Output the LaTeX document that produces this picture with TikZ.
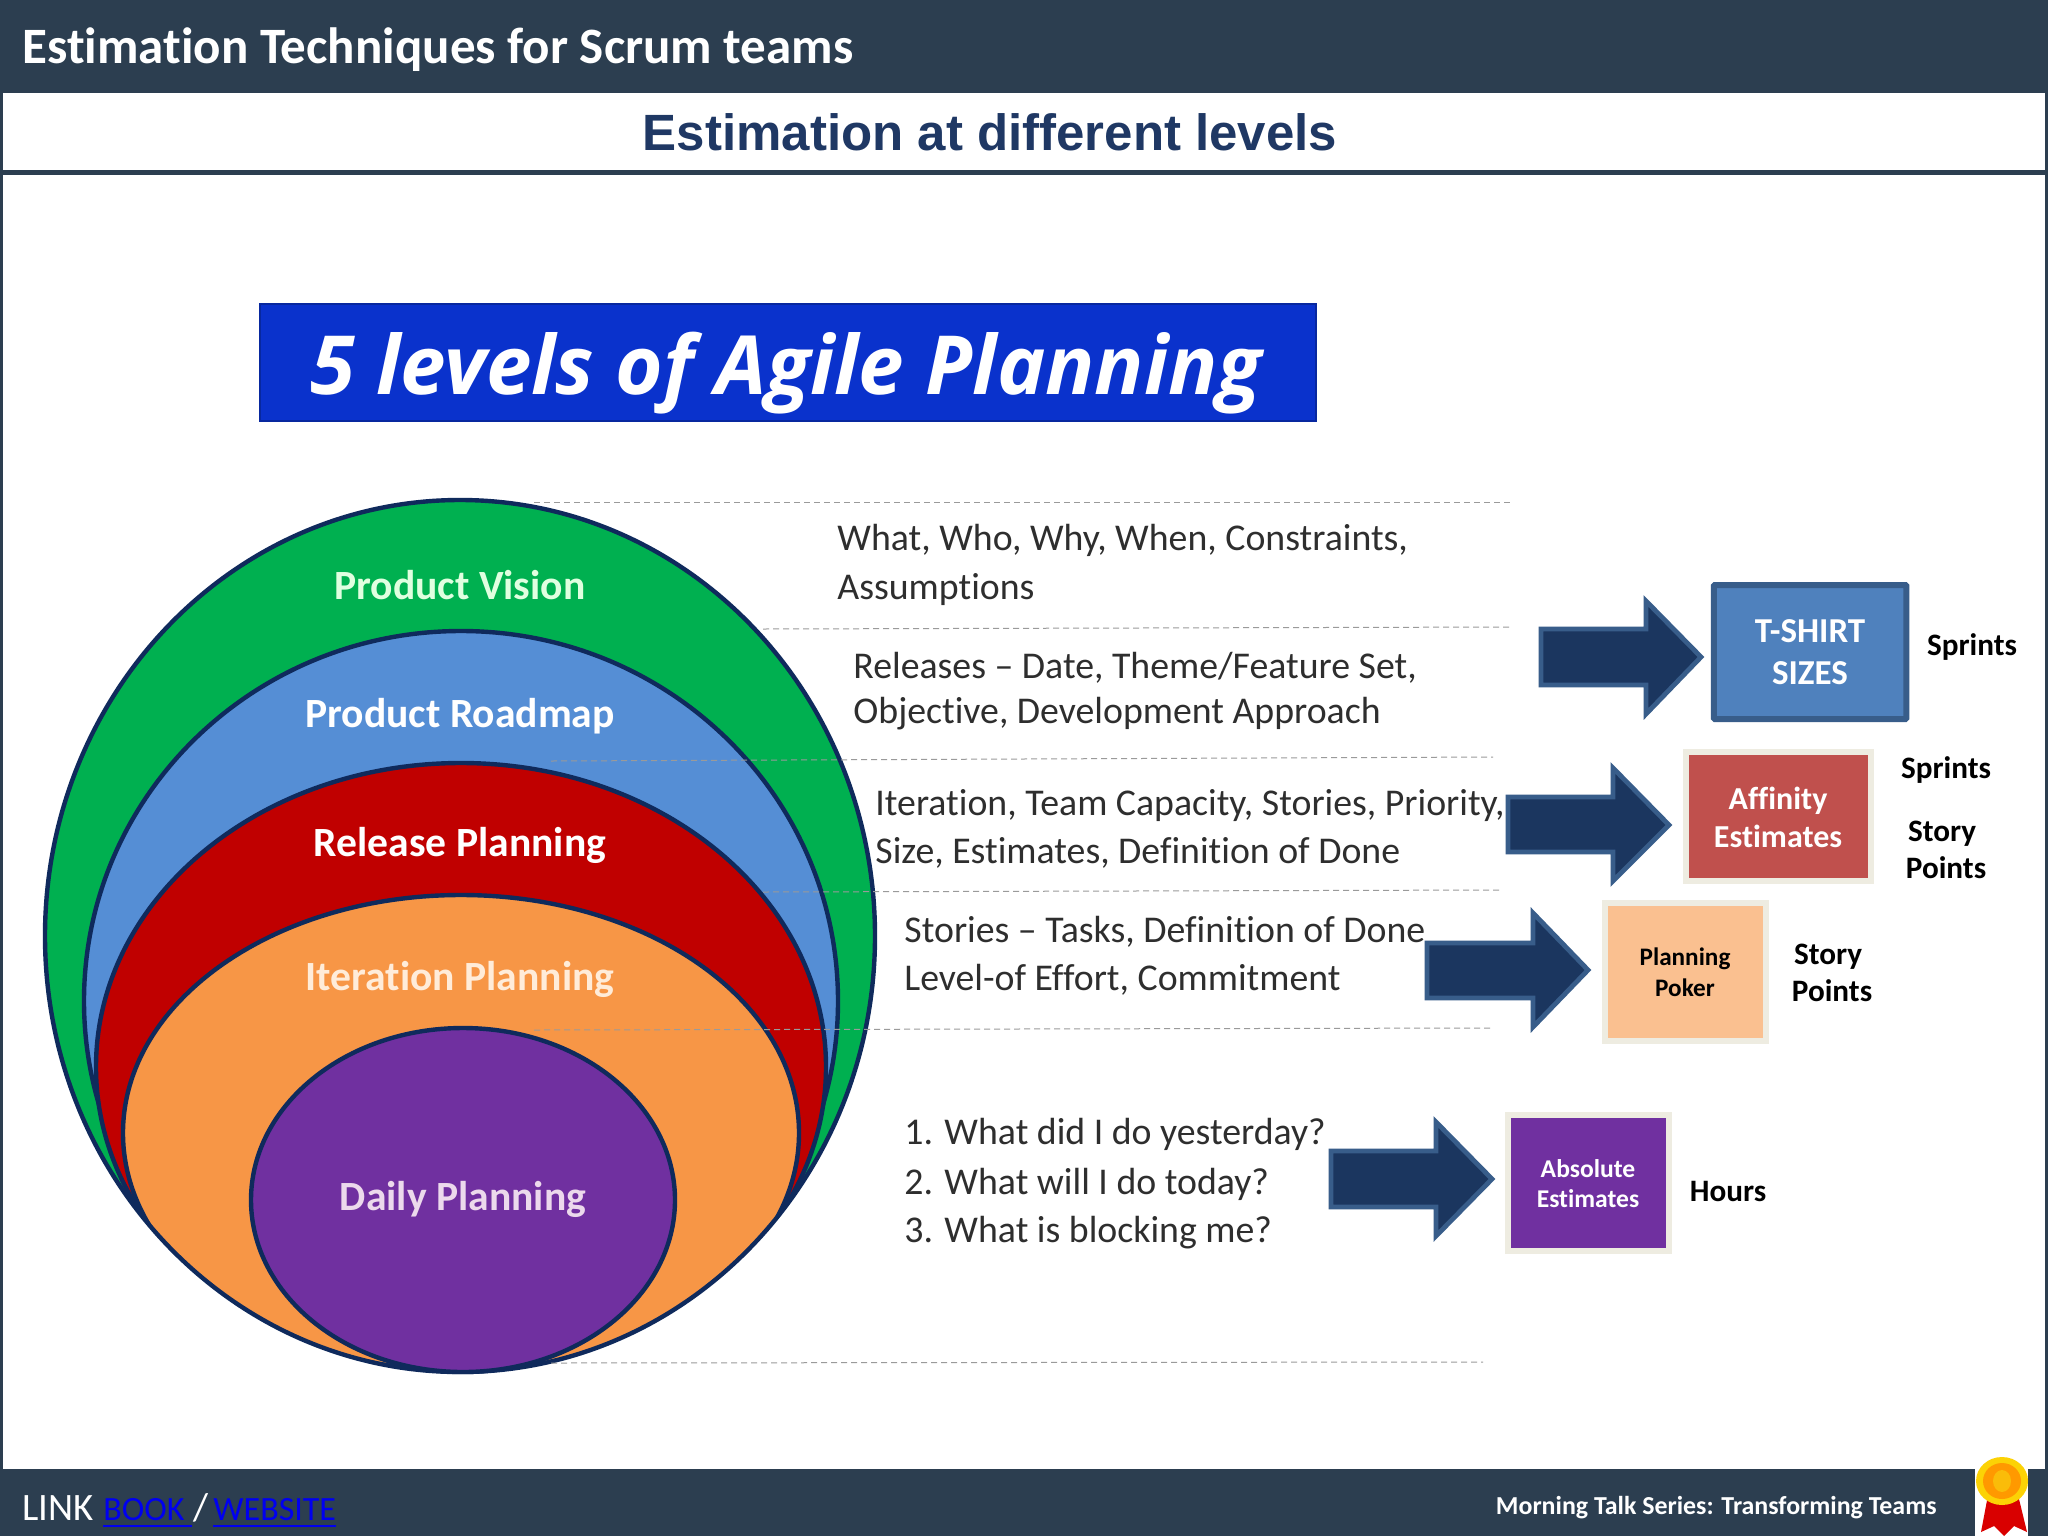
\documentclass[tikz,border=0pt]{standalone}
\usepackage{fontspec}
\setmainfont[Ligatures=NoCommon]{Carlito}
\newfontfamily\libfont{Liberation Sans}
\newfontfamily\opfont{Open Sans}
\definecolor{barc}{HTML}{2C3E50}
\definecolor{subc}{HTML}{1F3864}
\definecolor{edge}{HTML}{0F2A5C}
\definecolor{arrowfill}{HTML}{1B365F}
\definecolor{arrowedge}{HTML}{385D8A}
\definecolor{cream}{HTML}{EEECE1}
\definecolor{dashc}{HTML}{9A9A9A}
\definecolor{bannerc}{HTML}{0A32CC}
\definecolor{bannerlo}{HTML}{08289F}
\definecolor{linkc}{HTML}{0000F0}
\newcommand{\fsz}[1]{\fontsize{#1}{#1}\selectfont}
\tikzset{
  ring/.style={draw=edge,line width=2.2pt},
  levellabel/.style={anchor=mid,yshift=-4.5pt,font=\fsz{20.8}\bfseries},
  desc/.style={anchor=mid west,inner sep=0pt,yshift=-3.5pt,text=black!82,font=\fsz{18.9}},
  unitlabel/.style={anchor=mid,inner sep=0pt,yshift=-2.5pt,font=\fsz{15.6}\bfseries},
  boxtext/.style={anchor=mid,inner sep=0pt,yshift=-2.7pt,font=\fsz{#1}\bfseries},
  blockarrow/.style={fill=arrowfill,draw=arrowedge,line width=2.4pt,miter limit=10},
  creambox/.style={draw=cream,line width=3pt,rectangle,inner sep=0pt},
  rowline/.style={draw=dashc,line width=0.5pt,densely dashed},
  foottext/.style={anchor=mid west,inner sep=0pt,yshift=-3.5pt}
}
\begin{document}
\begin{tikzpicture}[x=0.5pt,y=-0.5pt]
\useasboundingbox (0,0) rectangle (2048,1536);
% page and bars
\fill[white] (0,0) rectangle (2048,1536);
\fill[barc] (0,0) rectangle (2048,93);
\fill[barc] (0,170) rectangle (2048,175);
\fill[barc] (0,93) rectangle (3,1536);
\fill[barc] (2045,93) rectangle (2048,1536);
\fill[barc] (0,1469) rectangle (2048,1536);
\node[anchor=mid west,inner sep=0pt,text=white,font=\fsz{25.5}\bfseries] (deck) at (22,59) {Estimation Techniques for Scrum teams};
\node[anchor=mid,inner sep=0pt,text=subc,font=\libfont\fsz{25.5}\bfseries] (sub) at (990,146) {Estimation at different levels};
% blue banner
\node[rectangle,minimum width=1056*0.5pt,minimum height=117*0.5pt,inner sep=0pt,fill=bannerc,draw=bannerlo,line width=1.2pt] (banner) at (788,362.5) {};
\node[anchor=mid,inner sep=0pt,text=white,font=\opfont\fsz{40.8}\bfseries\itshape] (bannertext) at (786,390) {5 levels of Agile Planning};
% nested ellipses
\fill[fill={rgb,255:red,0;green,176;blue,80}] (460,936) ellipse [x radius=415,y radius=436];
\begin{scope}
\clip (460,936) ellipse [x radius=415,y radius=436];
\draw[ring,fill={rgb,255:red,85;green,142;blue,213}] (461,1001) ellipse [x radius=377,y radius=370];
\draw[ring,fill={rgb,255:red,192;green,0;blue,0}] (461,1067) ellipse [x radius=365,y radius=304];
\draw[ring,fill={rgb,255:red,247;green,150;blue,70}] (461,1133) ellipse [x radius=338,y radius=238];
\end{scope}
\draw[ring] (460,936) ellipse [x radius=415,y radius=436];
\draw[ring,fill={rgb,255:red,112;green,48;blue,160}] (463,1200) ellipse [x radius=212,y radius=172];
\node[levellabel,text=green!12!white] (lv1) at (460,586) {Product Vision};
\node[levellabel,text=white] (lv2) at (460,714) {Product Roadmap};
\node[levellabel,text=white] (lv3) at (460,843) {Release Planning};
\node[levellabel,text=orange!15!white] (lv4) at (460,977) {Iteration Planning};
\node[levellabel,text=violet!15!white] (lv5) at (463,1197) {Daily Planning};
% row rules
\coordinate (r1a) at (534,502); \coordinate (r1b) at (1511,502);
\coordinate (r2a) at (763,629); \coordinate (r2b) at (1509,627);
\coordinate (r3a) at (551,761); \coordinate (r3b) at (1493,757);
\coordinate (r4a) at (763,892); \coordinate (r4b) at (1500,890);
\coordinate (r5a) at (534,1030); \coordinate (r5b) at (1490,1028);
\coordinate (r6a) at (551,1363); \coordinate (r6b) at (1483,1362);
\draw[rowline] (r1a) -- (r1b);
\draw[rowline] (r2a) -- (r2b);
\draw[rowline] (r3a) -- (r3b);
\draw[rowline] (r4a) -- (r4b);
\draw[rowline] (r5a) -- (r5b);
\draw[rowline] (r6a) -- (r6b);
% descriptions
\node[desc] (d1a) at (837,539) {What, Who, Why, When, Constraints,};
\node[desc] (d1b) at (837,588) {Assumptions};
\node[desc] (d2a) at (853,667) {Releases – Date, Theme/Feature Set,};
\node[desc] (d2b) at (853,712) {Objective, Development Approach};
\node[desc] (d3a) at (875,804) {Iteration, Team Capacity, Stories, Priority,};
\node[desc] (d3b) at (875,852) {Size, Estimates, Definition of Done};
\node[desc] (d4a) at (904,931) {Stories – Tasks, Definition of Done};
\node[desc] (d4b) at (904,979) {Level-of Effort, Commitment};
\node[desc] (d5a) at (904,1133) {1. What did I do yesterday?};
\node[desc] (d5b) at (904,1183) {2. What will I do today?};
\node[desc] (d5c) at (904,1231) {3. What is blocking me?};
% block arrows
\draw[blockarrow] (1541,629) -- (1646,629) -- (1646,601) -- (1701,657) -- (1646,714) -- (1646,685) -- (1541,685) -- cycle;
\draw[blockarrow] (1508,797) -- (1613,797) -- (1613,768) -- (1669,825) -- (1613,881) -- (1613,852) -- (1508,852) -- cycle;
\draw[blockarrow] (1427,943) -- (1533,943) -- (1533,913) -- (1588,970) -- (1533,1027) -- (1533,998) -- (1427,998) -- cycle;
\draw[blockarrow] (1331,1151) -- (1436,1151) -- (1436,1122) -- (1492,1179) -- (1436,1236) -- (1436,1207) -- (1331,1207) -- cycle;
% method boxes
\node[rectangle,inner sep=0pt,minimum width=192.5*0.5pt,minimum height=134*0.5pt,fill={rgb,255:red,79;green,129;blue,189},draw={rgb,255:red,56;green,93;blue,138},line width=3pt,rounded corners=0.5pt] (tshirt) at (1810,652) {};
\node[creambox,minimum width=185*0.5pt,minimum height=129*0.5pt,fill={rgb,255:red,192;green,80;blue,77}] (affinity) at (1778,816) {};
\node[creambox,minimum width=161*0.5pt,minimum height=138*0.5pt,fill={rgb,255:red,250;green,192;blue,144}] (poker) at (1685,972) {};
\node[creambox,minimum width=161*0.5pt,minimum height=136*0.5pt,fill={rgb,255:red,112;green,48;blue,160}] (absolute) at (1588,1183) {};
\node[boxtext=17.5,text=white] (t1) at (1810,632) {T-SHIRT};
\node[boxtext=17.5,text=white] (t2) at (1810,674) {SIZES};
\node[boxtext=16,text=white] (a1) at (1778,799) {Affinity};
\node[boxtext=16,text=white] (a2) at (1778,837) {Estimates};
\node[boxtext=12.6,text=black] (p1) at (1685,955) {Planning};
\node[boxtext=12.6,text=black] (p2) at (1685,986) {Poker};
\node[boxtext=12.8,text=white] (b1) at (1588,1167) {Absolute};
\node[boxtext=12.8,text=white] (b2) at (1588,1197) {Estimates};
% unit labels
\node[unitlabel] (u1) at (1972,646) {Sprints};
\node[unitlabel] (u2) at (1946,769) {Sprints};
\node[unitlabel] (u3) at (1942,832) {Story};
\node[unitlabel] (u4) at (1946,869) {Points};
\node[unitlabel] (u5) at (1828,955) {Story};
\node[unitlabel] (u6) at (1832,992) {Points};
\node[unitlabel] (u7) at (1728,1192) {Hours};
% footer
\node[foottext,text=white,font=\fsz{19.4}] (lnk) at (22,1509) {LINK};
\node[foottext,text=linkc,font=\fsz{17}] (bk) at (103,1509) {BOOK};
\node[foottext,text=white,font=\fsz{19.4}] (slash) at (193,1509) {/};
\node[foottext,text=linkc,font=\fsz{17}] (web) at (213,1509) {WEBSITE};
\coordinate (ul1) at (103,1526); \coordinate (ul2) at (192,1526);
\coordinate (ul3) at (213,1526); \coordinate (ul4) at (336,1526);
\draw[linkc,line width=1.2pt] (ul1) -- (ul2);
\draw[linkc,line width=1.2pt] (ul3) -- (ul4);
\node[anchor=mid east,inner sep=0pt,yshift=-2.5pt,text=white,font=\fsz{12.95}\bfseries] (tag) at (1937,1505) {Morning Talk Series: Transforming Teams};
% medal
\fill[white] (1975,1469) rectangle (2028,1536);
\fill[red!85!black] (1988,1495) -- (2018,1495) -- (2027,1532) -- (2014,1526) -- (2004,1536) -- (1994,1526) -- (1981,1532) -- cycle;
\fill[yellow!70!orange] (2002,1481) ellipse [x radius=26,y radius=24];
\fill[orange!80!yellow] (2002,1481) ellipse [x radius=19,y radius=18];
\fill[yellow!50!orange] (2002,1481) ellipse [x radius=9,y radius=11];
\end{tikzpicture}
\end{document}
